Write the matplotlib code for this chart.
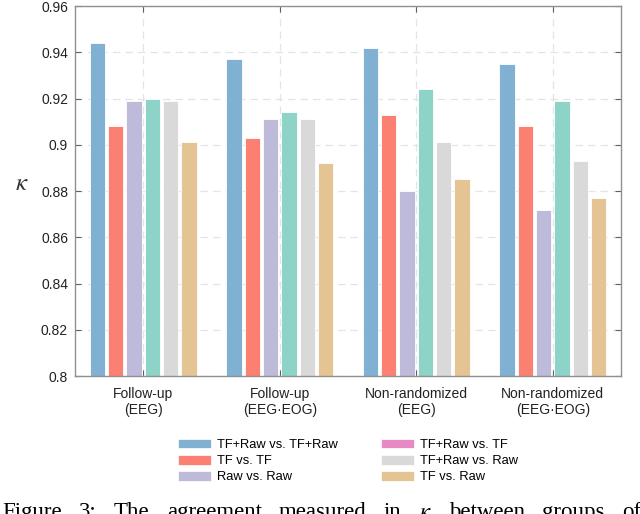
import numpy as np
import matplotlib
matplotlib.use("Agg")
from matplotlib import pyplot as plt
from matplotlib.patches import Patch

plt.rcParams['font.family'] = ['Liberation Sans', 'DejaVu Sans']
plt.rcParams['mathtext.fontset'] = 'stix'

groups = ['Follow-up\n(EEG)', 'Follow-up\n(EEG·EOG)',
          'Non-randomized\n(EEG)', 'Non-randomized\n(EEG·EOG)']
series = ['TF+Raw vs. TF+Raw', 'TF vs. TF', 'Raw vs. Raw',
          'TF+Raw vs. TF', 'TF+Raw vs. Raw', 'TF vs. Raw']
tfraw_tfraw = [0.944, 0.937, 0.942, 0.935]
tf_tf = [0.908, 0.903, 0.913, 0.908]
raw_raw = [0.919, 0.911, 0.880, 0.872]
tfraw_tf = [0.920, 0.914, 0.924, 0.919]
tfraw_raw = [0.919, 0.911, 0.901, 0.893]
tf_raw = [0.901, 0.892, 0.885, 0.877]
values = [tfraw_tfraw, tf_tf, raw_raw, tfraw_tf, tfraw_raw, tf_raw]
yticks = [0.8, 0.82, 0.84, 0.86, 0.88, 0.9, 0.92, 0.94, 0.96]
caption = r'Figure 3: The agreement measured in $\kappa$ between groups of'

bar_colors = ['#80b1d3', '#fb8072', '#bebada', '#8dd3c7', '#d9d9d9', '#e5c494']
# the legend in the original shows pink for the 4th series
legend_colors = ['#80b1d3', '#fb8072', '#bebada', '#e78ac3', '#d9d9d9', '#e5c494']

fig = plt.figure(figsize=(6.4, 5.14), dpi=100)
ax = fig.add_axes([75/640, 1-376/514, 546/640, 370/514])

x = np.arange(len(groups))
step = 0.134
width = 0.112
for i, vals in enumerate(values):
    ax.bar(x + (i - 2.5)*step, vals, width, color=bar_colors[i],
           edgecolor='white', linewidth=0.6, zorder=2)

ax.set_xlim(-0.5, len(groups) - 0.5)
ax.set_ylim(0.8, 0.96)
ax.set_yticks(yticks)
ax.set_yticklabels([f'{v:g}' for v in yticks])
ax.set_xticks(x)
ax.set_xticklabels(groups)
ax.set_axisbelow(True)
ax.grid(True, ls=(0, (6, 4)), color='#e4e4e4', lw=0.9)
ax.tick_params(direction='in', top=True, right=True, length=4,
               color='#606060', labelsize=10, labelcolor='#222222')
ax.tick_params(axis='x', pad=8)
ax.tick_params(axis='y', pad=5)
for s in ax.spines.values():
    s.set_color('#909090')
    s.set_linewidth(1.0)

ax.set_ylabel(r'$\kappa$', rotation=0, fontsize=18, color='#333333')
ax.yaxis.set_label_coords(-0.097, 0.49)

handles = [Patch(facecolor=c, edgecolor='white', lw=0.5) for c in legend_colors]
fig.legend(handles, series, loc='center', bbox_to_anchor=(348/640, 1-461/514),
           ncol=2, frameon=False, fontsize=9.3, handlelength=2.55,
           handleheight=0.78, handletextpad=0.47, columnspacing=3.4,
           labelspacing=0.3, borderpad=0)

# caption, justified across the full width like the source page
words = caption.split(' ')
renderer = fig.canvas.get_renderer()
texts = [fig.text(0, -0.0078, w, family='Liberation Serif', fontsize=16.5,
                  va='baseline', ha='left') for w in words]
widths = [t.get_window_extent(renderer).width for t in texts]
left, right = 2, 641
gap = (right - left - sum(widths)) / (len(words) - 1)
pos = left
for t, w in zip(texts, widths):
    t.set_x(pos / 640)
    pos += w + gap

fig.savefig('out.png', dpi=100)
